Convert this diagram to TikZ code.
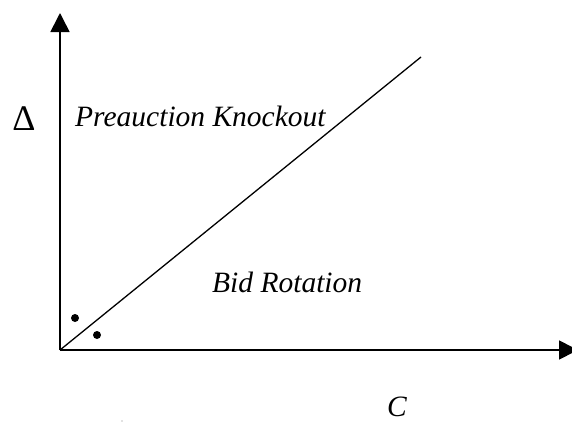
\documentclass[tikz,border=0pt]{standalone}
\usepackage{fontspec}
\setmainfont{Liberation Serif}
\usetikzlibrary{arrows.meta}
\begin{document}
\begin{tikzpicture}[x=1pt,y=-1pt,
  axis/.style={line width=1.6pt,-{Triangle[length=19pt,width=19pt]}},
  diag/.style={line width=1.3pt},
  lbl/.style={font=\fontsize{29.5}{32}\selectfont\itshape,inner sep=0pt,anchor=base west},
  dotmark/.style={fill=black,circle,inner sep=0pt,minimum size=8pt}]
\useasboundingbox (0,0) rectangle (572,423);
\coordinate (O) at (60,350);
\coordinate (Ytip) at (60,13);
\coordinate (Xtip) at (578,350);
\coordinate (Dend) at (421,57);
\draw[axis] (O) -- (Ytip);
\draw[axis] (O) -- (Xtip);
\draw[diag] (O) -- (Dend);
\node[font=\fontsize{36}{38}\selectfont,inner sep=0pt,anchor=base] (delta) at (24,130) {Δ};
\node[lbl] (pk) at (75,126) {Preauction Knockout};
\node[lbl] (br) at (212,292) {Bid Rotation};
\node[lbl] (c) at (387,416) {C};
\node[dotmark] (d1) at (75,318) {};
\node[dotmark] (d2) at (97,335) {};
\node[fill=gray,circle,inner sep=0pt,minimum size=1.2pt] (tiny) at (122,421) {};
\end{tikzpicture}
\end{document}
